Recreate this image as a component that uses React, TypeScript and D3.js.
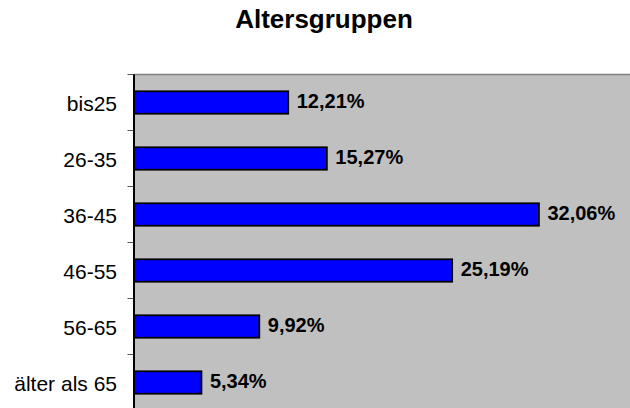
import React from "react";
import * as d3 from "d3";

const categories = ["bis25", "26-35", "36-45", "46-55", "56-65", "älter als 65"];
const values = [12.21, 15.27, 32.06, 25.19, 9.92, 5.34];
const valueLabels = ["12,21%", "15,27%", "32,06%", "25,19%", "9,92%", "5,34%"];
const title = "Altersgruppen";

const W = 630;
const H = 408;
const plotLeft = 134;
const plotTop = 74.5;
const plotBottom = 410.5;
const plotRight = 630;

export default function App() {
  const x = d3.scaleLinear().domain([0, 40]).range([plotLeft, plotLeft + 40 * 12.63]);
  const y = d3
    .scaleBand<string>()
    .domain(categories)
    .range([plotTop, plotBottom])
    .paddingInner(0.6)
    .paddingOuter(0.3);
  const step = y.step();
  const ticks = d3.range(categories.length + 1).map((i) => plotTop + i * step);
  const font = "'Liberation Sans', Arial, sans-serif";

  return (
    <svg
      width={W}
      height={H}
      style={{ position: "absolute", left: 0, top: 0, background: "#fff" }}
    >
      <text
        x={324}
        y={27.5}
        textAnchor="middle"
        fontFamily={font}
        fontWeight="bold"
        fontSize={26}
        fill="#000"
      >
        {title}
      </text>
      <rect x={plotLeft} y={plotTop} width={plotRight - plotLeft} height={plotBottom - plotTop} fill="#c0c0c0" />
      <line x1={plotLeft} x2={plotRight} y1={plotTop} y2={plotTop} stroke="#808080" strokeWidth={1.5} />
      {ticks.map((t, i) => (
        <line key={"t" + i} x1={127.5} x2={plotLeft} y1={t} y2={t} stroke="#555" strokeWidth={1} />
      ))}
      {categories.map((c, i) => {
        const by = y(c)!;
        const bh = y.bandwidth();
        const cy = by + bh / 2;
        return (
          <g key={c}>
            <rect
              x={x(0)}
              y={by}
              width={x(values[i]) - x(0)}
              height={bh}
              fill="#0000ff"
              stroke="#000"
              strokeWidth={1.8}
            />
            <text
              x={x(values[i]) + 8.5}
              y={cy + 5}
              fontFamily={font}
              fontWeight="bold"
              fontSize={20}
              fill="#000"
            >
              {valueLabels[i]}
            </text>
            <text
              x={117}
              y={cy + 8}
              textAnchor="end"
              fontFamily={font}
              fontSize={21}
              fill="#000"
            >
              {c}
            </text>
          </g>
        );
      })}
      <line x1={plotLeft} x2={plotLeft} y1={plotTop} y2={plotBottom} stroke="#000" strokeWidth={2} />
    </svg>
  );
}
